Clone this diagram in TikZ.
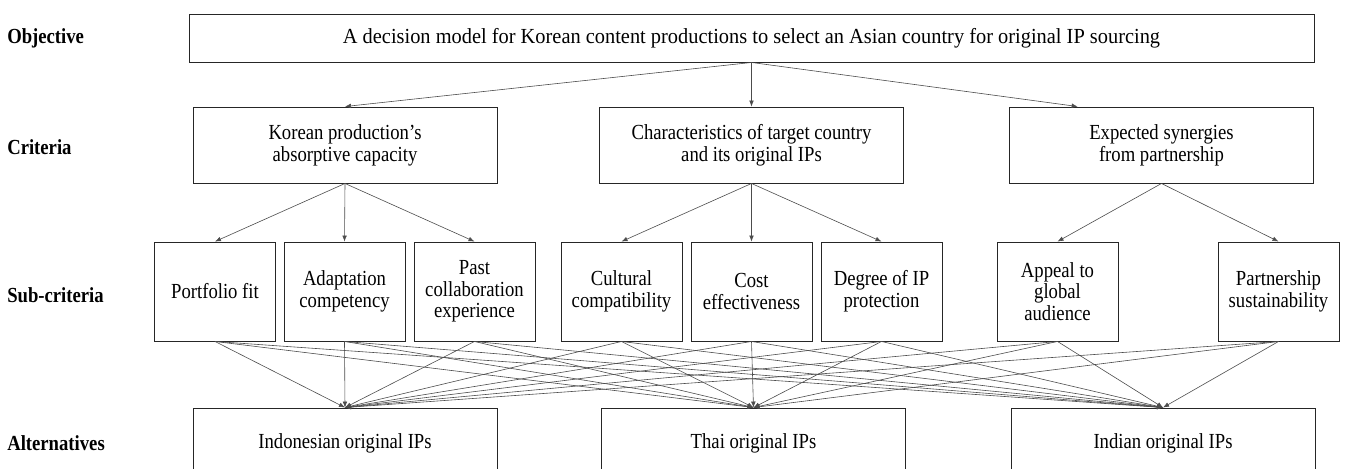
\documentclass[tikz,border=0pt]{standalone}
\usepackage{fontspec}
\setmainfont[FakeStretch=0.87]{Liberation Serif}
\newfontfamily\objfont[FakeStretch=0.95]{Liberation Serif}
\usetikzlibrary{arrows.meta,calc}
\begin{document}
\begin{tikzpicture}[x=0.75pt,y=-0.75pt,
  box/.style={draw=black!85, line width=0.7pt, align=center, inner sep=1pt,
    font=\fontsize{16.1}{16.3}\selectfont},
  objbox/.style={box, minimum width=843.75pt, minimum height=36pt,
    font=\objfont\fontsize{16.1}{16.3}\selectfont},
  critbox/.style={box, minimum width=228pt, minimum height=57pt},
  subbox/.style={box, minimum width=90.75pt, minimum height=74.25pt},
  altbox/.style={box, minimum width=228pt, minimum height=52.5pt},
  lvl/.style={anchor=west, font=\fontsize{16.1}{16.3}\selectfont\bfseries, inner sep=0pt},
  arr/.style={draw=black!70, line width=0.45pt, -{Latex[length=4.5pt,width=3.5pt]}}]
\useasboundingbox (0,0) rectangle (1346,468);
\clip (0,0) rectangle (1346,468);
% level labels
\node[lvl] (lobj) at (7,38) {Objective};
\node[lvl] (lcrit) at (7,147) {Criteria};
\node[lvl] (lsub) at (7,295) {Sub-criteria};
\node[lvl] (lalt) at (7,443) {Alternatives};
% objective
\node[objbox] (obj) at (751.5,38) {A decision model for Korean content productions to select an Asian country for original IP sourcing};
% criteria
\node[critbox] (c1) at (345,145) {Korean production’s\\absorptive capacity};
\node[critbox] (c2) at (751.5,145) {Characteristics of target country\\and its original IPs};
\node[critbox] (c3) at (1161.5,145) {Expected synergies\\from partnership};
% sub-criteria
\node[subbox] (s1) at (215,291.5) {Portfolio fit};
\node[subbox] (s2) at (344.5,291.5) {Adaptation\\competency};
\node[subbox] (s3) at (474.5,291.5) {Past\\collaboration\\experience};
\node[subbox] (s4) at (621.5,291.5) {Cultural\\compatibility};
\node[subbox] (s5) at (751.5,291.5) {Cost\\effectiveness};
\node[subbox] (s6) at (881.5,291.5) {Degree of IP\\protection};
\node[subbox] (s7) at (1057.5,291.5) {Appeal to\\global\\audience};
\node[subbox] (s8) at (1278.5,291.5) {Partnership\\sustainability};
% alternatives
\node[altbox] (a1) at (345,443) {Indonesian original IPs};
\node[altbox] (a2) at (753.5,443) {Thai original IPs};
\node[altbox] (a3) at (1163,443) {Indian original IPs};
% objective -> criteria
\coordinate (c3in) at ($(c3.north west)!0.225!(c3.north east)$);
\draw[arr] (obj.south) -- (c1.north);
\draw[arr] (obj.south) -- (c2.north);
\draw[arr] (obj.south) -- (c3in);
% criteria -> sub-criteria
\foreach \s in {s1,s2,s3} \draw[arr] (c1.south) -- (\s.north);
\foreach \s in {s4,s5,s6} \draw[arr] (c2.south) -- (\s.north);
\foreach \s in {s7,s8} \draw[arr] (c3.south) -- (\s.north);
% sub-criteria -> alternatives
\foreach \s in {s1,s2,s3,s4,s5,s6,s7,s8}
  \foreach \a in {a1,a2,a3}
    \draw[arr] (\s.south) -- (\a.north);
\end{tikzpicture}
\end{document}
